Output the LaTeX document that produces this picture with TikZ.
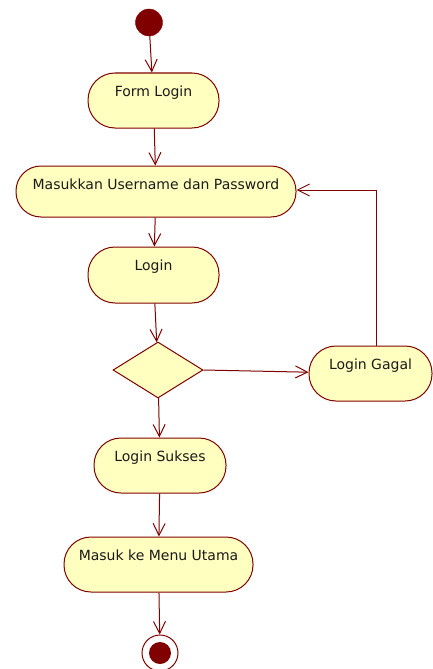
\documentclass[tikz,border=0pt]{standalone}
\usepackage{fontspec}
\setmainfont{DejaVu Sans}
\usetikzlibrary{shapes.geometric,arrows.meta}
\definecolor{edge}{HTML}{800000}
\definecolor{actfill}{HTML}{FFFFC0}
\definecolor{txt}{HTML}{1A1A1A}
\begin{document}
\begin{tikzpicture}[x=1pt,y=-1pt,
  act/.style={draw=edge,fill=actfill,line width=1pt,rectangle,rounded corners=27pt,
    inner xsep=0pt,inner ysep=0pt,text height=23pt,text depth=32pt,
    font=\fontsize{14pt}{16pt}\selectfont,text=txt},
  flow/.style={draw=edge,line width=1pt,-{Straight Barb[length=12pt,width=12pt,line width=1pt]}}]
\useasboundingbox (0,0) rectangle (433,669);
% start
\node[circle,fill=edge,draw=edge,minimum size=27pt,inner sep=0pt] (start) at (149,22.5) {};
% activities
\node[act,minimum width=131pt] (form) at (153.5,100.5) {Form Login};
\node[act,minimum width=280pt,text depth=28pt,rounded corners=25pt] (masuk) at (156,191.5) {Masukkan Username dan Password};
\node[act,minimum width=131pt,text depth=33pt] (login) at (153.5,275) {Login};
\node[diamond,draw=edge,fill=actfill,line width=1pt,minimum width=90pt,minimum height=56pt,inner sep=0pt] (dec) at (158,370) {};
\node[act,minimum width=123pt] (gagal) at (370.5,373.5) {Login Gagal};
\node[act,minimum width=132pt] (sukses) at (160,465.5) {Login Sukses};
\node[act,minimum width=189pt] (menu) at (158.5,564.5) {Masuk ke Menu Utama};
% end
\node[circle,draw=edge,line width=1pt,fill=white,minimum size=36pt,inner sep=0pt] (end) at (160,653) {};
\node[circle,fill=edge,minimum size=22pt,inner sep=0pt] (endin) at (end.center) {};
% flows
\draw[flow] (start) -- (form);
\draw[flow] (form) -- (masuk);
\draw[flow] (masuk) -- (login);
\draw[flow] (login) -- (dec);
\draw[flow] (dec) -- (sukses);
\draw[flow] (dec.east) -- (gagal);
\draw[flow] (sukses) -- (menu);
\draw[flow] (menu) -- (end);
\coordinate (lp) at (376,190);
\draw[flow] (lp |- gagal.north) -- (lp) -- (masuk.east |- lp);
\end{tikzpicture}
\end{document}
